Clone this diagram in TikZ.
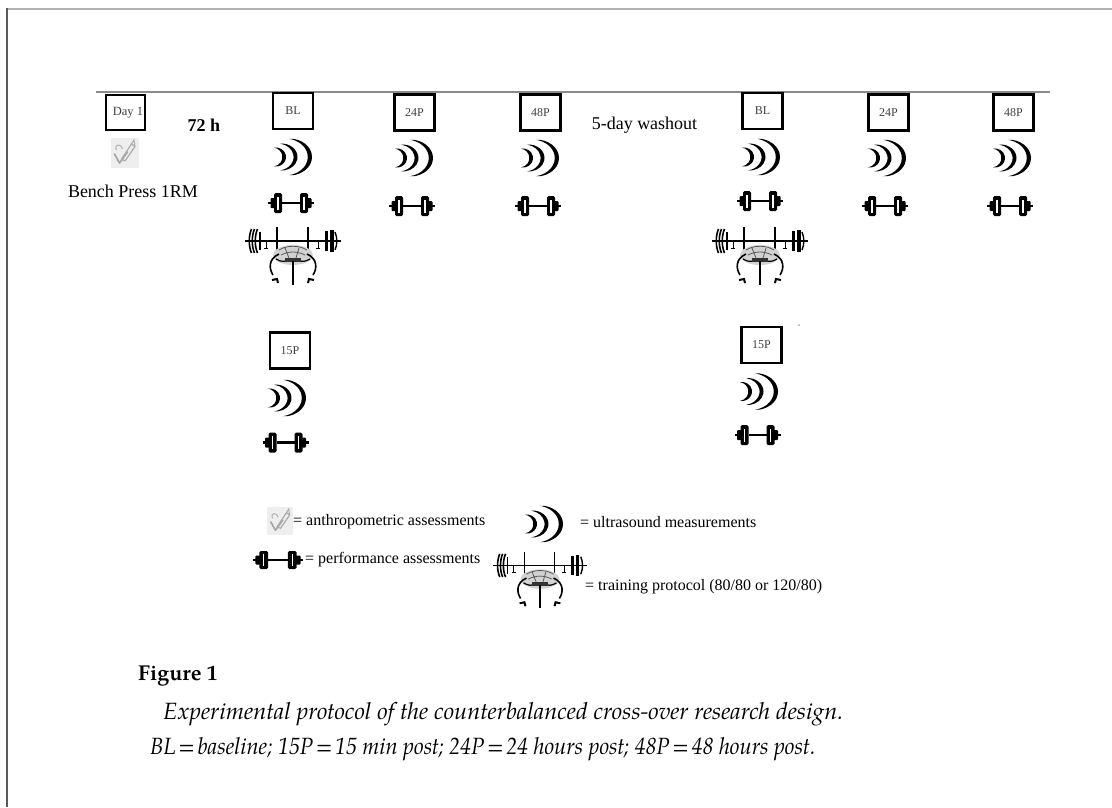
\documentclass[tikz,border=0pt]{standalone}
\usepackage{fontspec}
\setmainfont{Liberation Serif}
\newfontfamily\capfont{TeX Gyre Pagella}
\newcommand{\eqsign}{\hspace{0.12em}=\hspace{0.12em}}
\begin{document}
\begin{tikzpicture}[x=1pt,y=-1pt,
  tbox/.style={draw=black,line width=2.8pt,minimum width=40pt,minimum height=36pt,
    inner sep=0pt,font=\fontsize{12}{12}\selectfont,text=black!75},
  lbl/.style={font=\fontsize{18}{20}\selectfont,inner sep=0pt},
  leg/.style={font=\fontsize{16}{18}\selectfont,inner sep=0pt,anchor=west},
  captext/.style={font=\capfont\itshape\fontsize{23.5}{26}\selectfont,inner sep=0pt,anchor=west},
  uswaves/.pic={
    \foreach \cx/\rx/\ry/\w in {-19/10/9.5/3.6,-13.5/16/13.5/3.9,-6/23/18.5/4.2}{
      \fill ({\cx+\rx*cos(80)},{-\ry*sin(80)}) arc[start angle=-80,end angle=80,x radius=\rx,y radius=\ry]
        -- ({\cx-\w+\rx*cos(80)},{\ry*sin(80)}) arc[start angle=80,end angle=-80,x radius=\rx,y radius=\ry] -- cycle;
    }
  },
  dumbbell/.pic={
    \fill (-9,-1.4) rectangle (9,1.4);
    \foreach \s in {-1,1}{
      \begin{scope}[xscale=\s]
        \fill[rounded corners=1.5pt] (9,-10) rectangle (17,10);
        \fill[white] (12.4,-6.5) rectangle (13.6,6.5);
        \fill[rounded corners=1pt] (16,-5) rectangle (20.5,5);
        \fill (20,-1.4) rectangle (23,1.4);
      \end{scope}
    }
  },
  anthro/.pic={
    \fill[gray!13] (-14,-15) rectangle (14,15);
    \draw[gray!70,line width=1.7pt,line join=round,line cap=round] (-10,1) -- (-5,10) -- (3,-1);
    \draw[gray!65,line width=1.2pt,line join=round] (-3,6) -- (7,-9) -- (10.5,-6.5) -- (0.5,8) -- cycle;
    \draw[gray!65,line width=1pt] (7,-9) -- (9.5,-13) -- (10.5,-6.5);
    \draw[gray!60,line width=1pt] (-8,-3) .. controls (-11,-9) and (-3,-10) .. (-2,-4);
  },
  benchfig/.pic={
    % barbell
    \draw[line width=1.2pt] (-48,-15) -- (48,-15);
    \foreach \x in {-43,-40,-37}{
      \draw[line width=1.6pt] (\x+1.5,-27) .. controls (\x-1.5,-20) and (\x-1.5,-10) .. (\x+1.5,-3);
    }
    \fill (-34.5,-24) rectangle (-32.5,-6);
    \fill (32,-25) rectangle (35,-5);
    \fill (37,-26) rectangle (40.5,-4);
    \draw[line width=1.4pt] (42,-24) .. controls (44.5,-18) and (44.5,-12) .. (42,-6);
    % arms gripping the bar
    \draw[line width=1.3pt] (-16,-29) -- (-16,-4);
    \draw[line width=1.3pt] (15,-29) -- (15,-4);
    \draw[line width=0.8pt] (-27,-14) -- (-27,-8) (-25,-8) -- (-29,-8);
    \draw[line width=0.8pt] (25,-14) -- (25,-8) (23,-8) -- (27,-8);
    % body
    \fill[gray!35] (0,-1) ellipse[x radius=20,y radius=10];
    \draw[gray!70!black,line width=0.8pt] (-14,-6) .. controls (-6,-11) and (6,-11) .. (14,-6)
      (-12,-1) .. controls (-4,-5) and (4,-5) .. (12,-1)
      (-8,-8) -- (-4,2) (6,-8) -- (3,2);
    \draw[line width=1.6pt] (-14,-2) .. controls (-25,3) and (-24,13) .. (-20,19);
    \draw[line width=1.6pt] (14,-2) .. controls (25,3) and (24,13) .. (20,19);
    \draw[line width=1.2pt] (-17,3) .. controls (-12,6) and (-8,6) .. (-5,4)
      (17,3) .. controls (12,6) and (8,6) .. (5,4);
    \fill[black!80] (-8,2) rectangle (8,6);
    % bench
    \draw[line width=2pt] (0,5) -- (0,29);
    \draw[line width=2pt] (-21,24) -- (-16,23) -- (-15,27);
    \draw[line width=2pt] (21,24) -- (16,23) -- (15,27);
  }
]
\useasboundingbox (0,0) rectangle (1112,807);
\fill[white] (0,0) rectangle (1112,807);

% page frame
\draw[gray!60,line width=2pt] (7,8.5) -- (1112,8.5);
\draw[black!65,line width=1.5pt] (7,8) -- (7,807);

% timeline
\draw[gray!85!black!80,line width=1.8pt] (96,92) -- (1050,92);

% first session
\node[tbox,minimum width=39pt,minimum height=35pt] (d1) at (125.5,112.5) {};
\node[font=\fontsize{12.5}{12.5}\selectfont,text=black!75,inner sep=0pt] (d1t) at (128,113) {Day 1};
\node[lbl,font=\bfseries\fontsize{18}{20}\selectfont] (h72) at (204,125) {72 h};
\pic at (124.5,153) {anthro};
\node[lbl] (bp) at (133,191) {Bench Press 1RM};

\node[tbox] (bla) at (293,111) {BL};
\pic at (295,157) {uswaves};
\pic at (291,203) {dumbbell};
\pic at (293,256) {benchfig};

\node[tbox] (p24a) at (414.5,112.5) {24P};
\pic at (416,158) {uswaves};
\pic at (412,206) {dumbbell};

\node[tbox] (p48a) at (540.5,112.5) {48P};
\pic at (542,158) {uswaves};
\pic at (538,206) {dumbbell};

\node[tbox] (p15a) at (290,350.5) {15P};
\pic at (289,398) {uswaves};
\pic at (285.5,442.5) {dumbbell};

% washout and second session
\node[lbl] (wash) at (644.5,125) {5-day washout};

\node[tbox] (blb) at (762.5,111) {BL};
\pic at (763,157) {uswaves};
\pic at (760,201) {dumbbell};
\pic at (760,256) {benchfig};

\node[tbox] (p24b) at (888.5,112.5) {24P};
\pic at (889,158) {uswaves};
\pic at (885,206) {dumbbell};

\node[tbox] (p48b) at (1013.5,112.5) {48P};
\pic at (1014,158) {uswaves};
\pic at (1010,206) {dumbbell};

\node[tbox] (p15b) at (761.5,345) {15P};
\pic at (761,391.5) {uswaves};
\pic at (757.5,435) {dumbbell};
\fill[gray!70] (799,325) circle (1pt);

% legend
\pic[scale=0.92] at (280,521) {anthro};
\node[leg] (la) at (293,522) {= anthropometric assessments};
\pic at (546,524) {uswaves};
\node[leg] (lu) at (580,522) {= ultrasound measurements};
\pic[xscale=1.1,yscale=0.9] at (278,560) {dumbbell};
\node[leg] (lp) at (305,560) {= performance assessments};
\pic[scale=0.97] at (540,580) {benchfig};
\node[leg] (lt) at (585,587) {= training protocol (80/80 or 120/80)};

% caption
\node[anchor=west,inner sep=0pt,font=\capfont\bfseries\fontsize{21.5}{23}\selectfont] (fig) at (138,676) {Figure 1};
\node[captext] (c1) at (163,714) {Experimental protocol of the counterbalanced cross-over research design.};
\node[captext] (c2) at (150,749) {\scalebox{0.93}[1]{BL\eqsign baseline; 15P\eqsign 15 min post; 24P\eqsign 24 hours post; 48P\eqsign 48 hours post.}};
\end{tikzpicture}
\end{document}
